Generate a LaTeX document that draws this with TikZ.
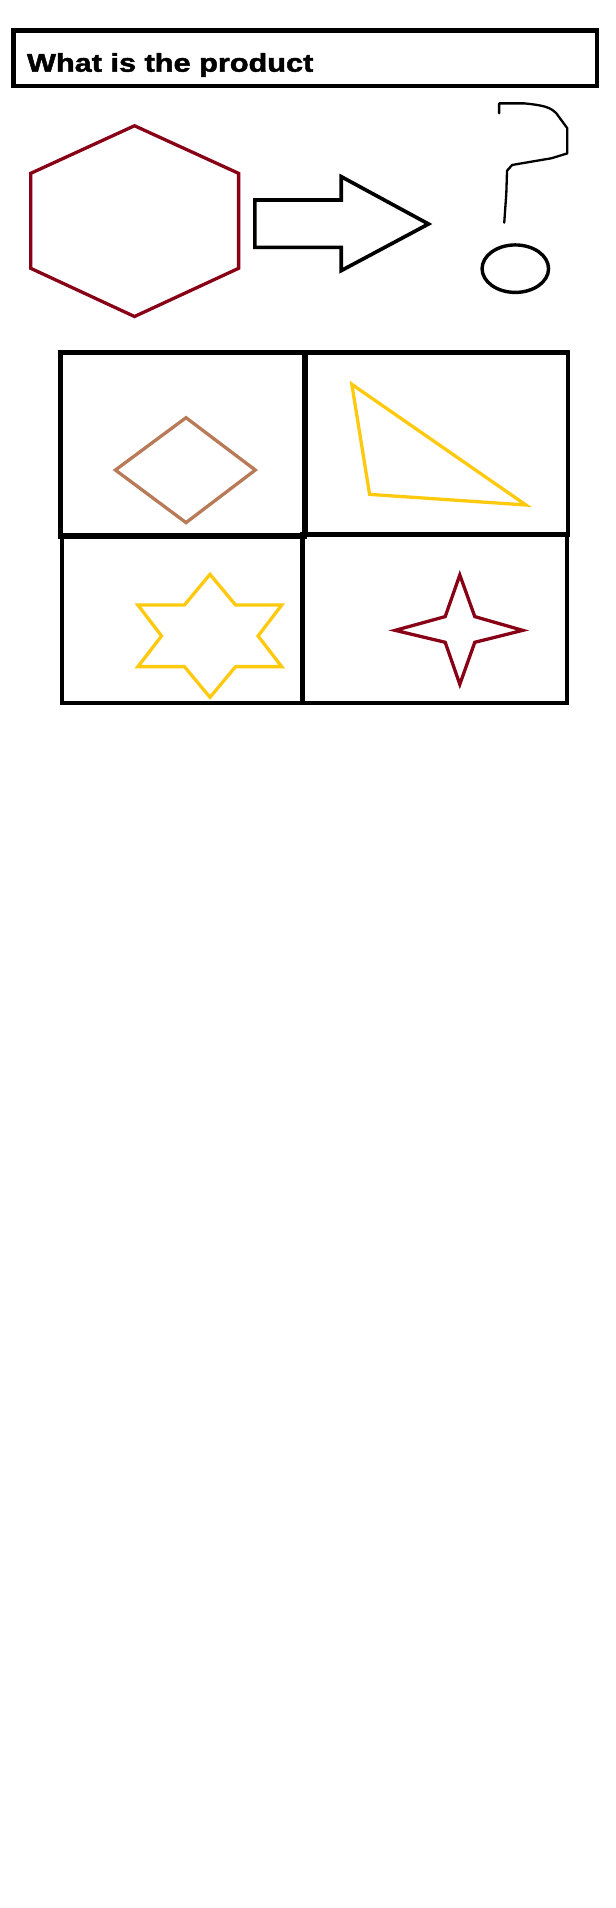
\documentclass[tikz,border=0pt]{standalone}
\usepackage{fontspec}
\setmainfont{Liberation Sans}
\newfontfamily\titlefont{Liberation Sans Bold}[FakeBold=1.6]
\definecolor{pdarkred}{RGB}{136,0,21}
\definecolor{pbrown}{RGB}{185,122,87}
\definecolor{pyellow}{RGB}{255,201,14}
\begin{document}
\begin{tikzpicture}[x=1pt,y=-1pt,
  frame/.style={draw=black,line width=3.6pt},
  shapeline/.style={line width=2.7pt},
  inkline/.style={draw=black,line width=1.9pt,line cap=round,line join=round}]
\useasboundingbox[fill=white] (0,0) rectangle (506,1567.3);
% title
\draw[frame] (11,25) rectangle (490.5,70.5);
\node[anchor=base west,inner sep=0pt,font=\fontsize{21}{24}\selectfont\titlefont] (title) at (22,58.9) {\scalebox{1.2}[1]{What is the product}};
% hexagon
\draw[shapeline,draw=pdarkred] (110.5,103.3) -- (196,142.4) -- (196,220.4) -- (110.5,260) -- (25.2,220.4) -- (25.2,142.4) -- cycle;
% block arrow
\draw[draw=black,line width=3pt] (209.4,164.3) -- (280.3,164.3) -- (280.3,145.1) -- (352,184) -- (280.3,222.3) -- (280.3,203.2) -- (209.4,203.2) -- cycle;
% question mark
\draw[inkline] (410,93.1) -- (410,84.9) -- (430.4,84.9) .. controls (446.6,86.5) and (452,88) .. (457,93.1) -- (466,105.4) -- (466,126) -- (453,130) -- (420.7,135.5) -- (416.5,140.2) -- (415.9,158.8) -- (414.2,182.9);
\draw[draw=black,line width=2.8pt] (423.3,220.7) ellipse [x radius=27.3,y radius=19.5];
% grid
\draw[frame] (251,289.4) rectangle (466.7,438.9);
\draw[frame] (248.5,438.9) rectangle (465.8,577.5);
\draw[frame] (51,440.3) rectangle (248.5,577.5);
\draw[frame,line width=4.2pt] (50,289.4) rectangle (250.2,440.3);
% diamond
\draw[shapeline,draw=pbrown] (152.8,343.1) -- (209.7,386.1) -- (152.8,429.3) -- (94.8,386.1) -- cycle;
% triangle
\draw[shapeline,draw=pyellow] (289,315.7) -- (303.6,406.1) -- (432,414.8) -- cycle;
% six-point star
\draw[shapeline,draw=pyellow] (172.5,471.8) -- (193.5,497) -- (231.4,497) -- (212,522.4) -- (231.4,547.6) -- (193.5,547.6) -- (172.5,572.8) -- (151.5,547.6) -- (113.3,547.6) -- (132.7,522.4) -- (113.3,497) -- (151.5,497) -- cycle;
% four-point star
\draw[shapeline,draw=pdarkred] (377.7,472.3) -- (390,506.5) -- (429.4,517.8) -- (390,527.6) -- (377.7,562.1) -- (365.7,527.6) -- (324.6,517.8) -- (365.7,506.5) -- cycle;
\end{tikzpicture}
\end{document}
